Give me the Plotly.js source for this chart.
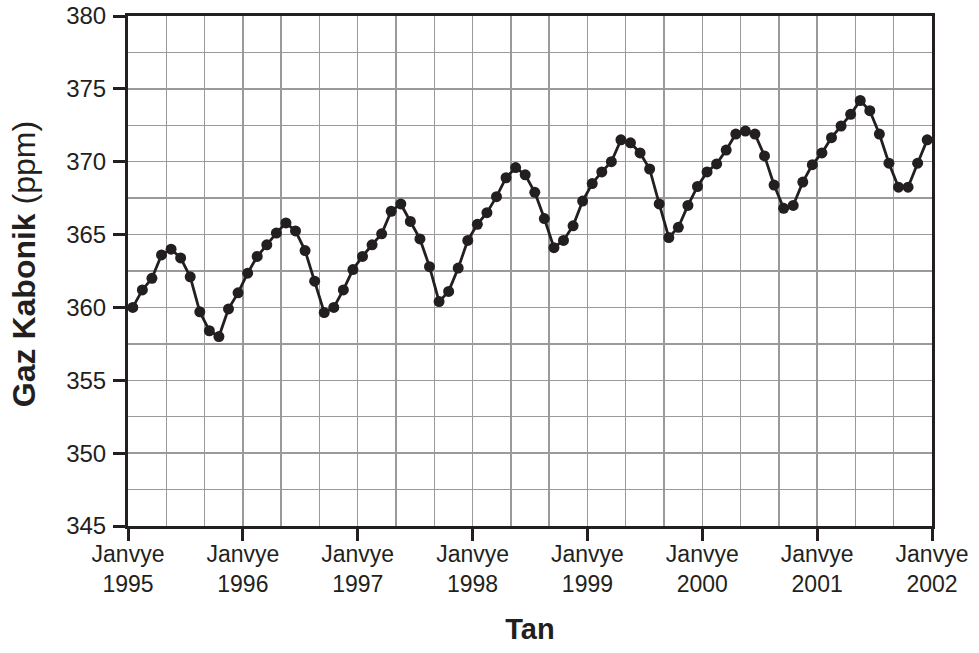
<!DOCTYPE html>
<html>
<head>
<meta charset="utf-8">
<script src="https://cdn.plot.ly/plotly-3.0.1.min.js"></script>
<style>html,body{margin:0;padding:0;background:#fff;}#chart{width:979px;height:653px;}</style>
</head>
<body>
<div id="chart"></div>
<script>
// Monthly CO2 readings (ppm), January..December
const years = [1995, 1996, 1997, 1998, 1999, 2000, 2001];
const co2_1995 = [360.0, 361.2, 362.0, 363.6, 364.0, 363.4, 362.1, 359.7, 358.4, 358.0, 359.9, 361.0];
const co2_1996 = [362.35, 363.5, 364.3, 365.1, 365.8, 365.25, 363.9, 361.8, 359.65, 360.0, 361.2, 362.6];
const co2_1997 = [363.5, 364.3, 365.05, 366.6, 367.1, 365.9, 364.7, 362.8, 360.4, 361.1, 362.7, 364.6];
const co2_1998 = [365.7, 366.5, 367.6, 368.9, 369.6, 369.1, 367.9, 366.1, 364.1, 364.6, 365.6, 367.3];
const co2_1999 = [368.5, 369.3, 370.0, 371.5, 371.3, 370.6, 369.5, 367.1, 364.8, 365.5, 367.0, 368.3];
const co2_2000 = [369.3, 369.85, 370.8, 371.9, 372.1, 371.9, 370.4, 368.4, 366.8, 367.0, 368.6, 369.8];
const co2_2001 = [370.6, 371.65, 372.45, 373.25, 374.2, 373.5, 371.9, 369.9, 368.25, 368.25, 369.9, 371.5];
const tickYears = [1995, 1996, 1997, 1998, 1999, 2000, 2001, 2002];
const tickText = tickYears.map(y => 'Janvye<br>' + y);
const yTicks = [345, 350, 355, 360, 365, 370, 375, 380];
const xTitle = '<b>Tan</b>';
const yTitle = '<b>Gaz Kabonik</b> (ppm)';

const series = [co2_1995, co2_1996, co2_1997, co2_1998, co2_1999, co2_2000, co2_2001];
const xs = [], ys = [];
series.forEach((vals, i) => {
  vals.forEach((v, m) => { xs.push(years[i] + (m + 0.5) / 12); ys.push(v); });
});

const ink = '#231f20';
const grid = '#9a9a9a';
const fontFam = '"Liberation Sans", Arial, Helvetica, sans-serif';

const trace = {
  x: xs, y: ys, type: 'scatter', mode: 'lines+markers',
  line: {color: ink, width: 2.8},
  marker: {color: ink, size: 11},
  hoverinfo: 'skip', cliponaxis: false
};

const layout = {
  width: 979, height: 653,
  margin: {l: 128, r: 47, t: 16, b: 127},
  paper_bgcolor: '#fff', plot_bgcolor: '#fff',
  showlegend: false,
  font: {family: fontFam, color: ink, size: 23},
  xaxis: {
    range: [1995, 2002], tickmode: 'array', tickvals: tickYears, ticktext: tickText,
    ticks: 'outside', ticklen: 12, tickwidth: 3, tickcolor: ink,
    ticklabelstandoff: -7,
    showline: true, linecolor: ink, linewidth: 3, mirror: true,
    showgrid: true, gridcolor: grid, gridwidth: 1.5, zeroline: false,
    minor: {tickmode: 'linear', tick0: 1995, dtick: 1/3, showgrid: true, gridcolor: grid, gridwidth: 1.5, ticks: ''},
    tickfont: {size: 23, family: fontFam, color: ink},
    title: {text: xTitle, font: {size: 29, family: fontFam, color: ink}, standoff: 24}
  },
  yaxis: {
    range: [345, 380], tickmode: 'array', tickvals: yTicks,
    ticks: 'outside', ticklen: 12, tickwidth: 3, tickcolor: ink,
    ticklabelstandoff: 2,
    showline: true, linecolor: ink, linewidth: 3, mirror: true,
    showgrid: true, gridcolor: grid, gridwidth: 1.5, zeroline: false,
    minor: {tickmode: 'linear', tick0: 345, dtick: 2.5, showgrid: true, gridcolor: grid, gridwidth: 1.5, ticks: ''},
    tickfont: {size: 24, family: fontFam, color: ink}
  },
  annotations: [{
    text: yTitle, xref: 'paper', yref: 'paper', x: -0.129, y: 0.514,
    xanchor: 'center', yanchor: 'middle', textangle: -90, showarrow: false,
    font: {size: 32, family: fontFam, color: ink}
  }]
};

Plotly.newPlot('chart', [trace], layout, {displayModeBar: false, staticPlot: true});
</script>
</body>
</html>
